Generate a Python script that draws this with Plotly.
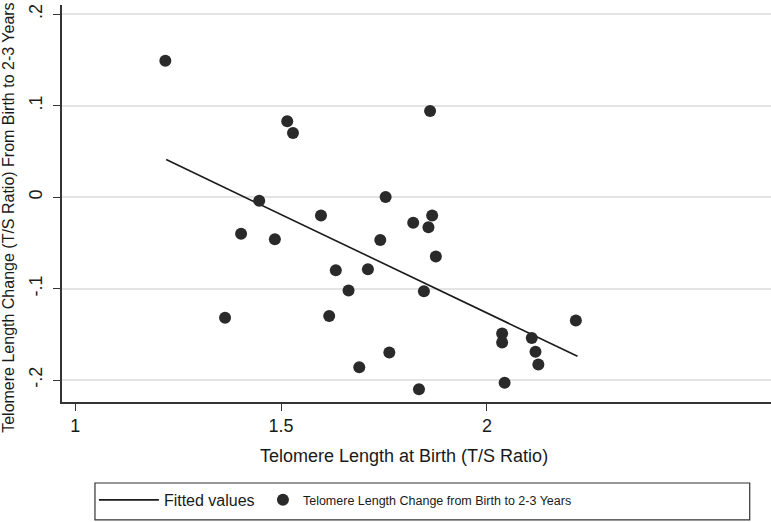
import plotly.graph_objects as go

# Telomere length at birth (T/S ratio)
birth_ts = [1.219, 1.515, 1.529, 1.862, 1.447, 1.754, 1.597, 1.821, 1.867, 1.858,
            1.403, 1.485, 1.741, 1.876, 1.633, 1.711, 1.664, 1.847, 1.364, 1.617,
            1.763, 1.690, 1.835, 2.037, 2.037, 2.109, 2.118, 2.125, 2.216, 2.043]
# Telomere length change from birth to 2-3 years
change_ts = [0.149, 0.083, 0.070, 0.094, -0.004, 0.000, -0.020, -0.028, -0.020, -0.033,
             -0.040, -0.046, -0.047, -0.065, -0.080, -0.079, -0.102, -0.103, -0.132, -0.130,
             -0.170, -0.186, -0.210, -0.149, -0.159, -0.154, -0.169, -0.183, -0.135, -0.203]
# Fitted values (end points of the fitted line)
fit_x = [1.221, 2.220]
fit_y = [0.041, -0.174]

x_ticks = [1, 1.5, 2]
x_tick_labels = ["1", "1.5", "2"]
y_ticks = [0.2, 0.1, 0, -0.1, -0.2]
y_tick_labels = [".2", ".1", "0", "-.1", "-.2"]

FONT = "Liberation Sans, Arial, Helvetica, sans-serif"

fig = go.Figure()
fig.add_trace(go.Scatter(
    x=fit_x, y=fit_y, mode="lines",
    line=dict(color="#1a1a1a", width=1.6),
    name="Fitted values", legend="legend",
))
fig.add_trace(go.Scatter(
    x=birth_ts, y=change_ts, mode="markers",
    marker=dict(color="#2a2a2a", size=12, line=dict(width=0)),
    name="Telomere Length Change from Birth to 2-3 Years", legend="legend2",
))

fig.update_layout(
    width=771, height=522,
    margin=dict(l=62, r=0, t=5, b=120, autoexpand=False),
    paper_bgcolor="white", plot_bgcolor="white",
    font=dict(family=FONT, color="#1a1a1a", size=16),
    showlegend=True,
    legend=dict(
        orientation="h", x=0.045, xanchor="left", y=-0.2469, yanchor="middle",
        bgcolor="rgba(0,0,0,0)", font=dict(size=16), itemwidth=60,
        itemclick=False,
    ),
    legend2=dict(
        orientation="h", x=0.2834, xanchor="left", y=-0.2469, yanchor="middle",
        bgcolor="rgba(0,0,0,0)", font=dict(size=12.5),
        itemclick=False,
    ),
    xaxis=dict(
        range=[0.968, 2.69], tickvals=x_ticks, ticktext=x_tick_labels,
        showgrid=False, zeroline=False, automargin=False,
        showline=True, linecolor="#333333", linewidth=1.5,
        ticks="outside", ticklen=7, tickcolor="#333333", tickwidth=1.2,
        tickfont=dict(size=18), ticklabelstandoff=0,
    ),
    yaxis=dict(
        range=[-0.224, 0.21], tickvals=y_ticks, ticktext=y_tick_labels,
        showgrid=True, gridcolor="#e4e4e4", gridwidth=1.5, zeroline=False, automargin=False,
        showline=True, linecolor="#333333", linewidth=1.5,
        ticks="outside", ticklen=7, tickcolor="#333333", tickwidth=1.2,
        tickangle=-90, tickfont=dict(size=18), ticklabelstandoff=4,
    ),
    annotations=[
        dict(
            text="Telomere Length Change (T/S Ratio) From Birth to 2-3 Years",
            xref="paper", yref="paper", x=-0.075, y=0.4635,
            xanchor="center", yanchor="middle", textangle=-90, showarrow=False,
            font=dict(size=16),
        ),
        dict(
            text="Telomere Length at Birth (T/S Ratio)",
            xref="paper", yref="paper", x=0.482, y=-0.136,
            xanchor="center", yanchor="middle", showarrow=False,
            font=dict(size=18),
        ),
    ],
    shapes=[dict(
        type="rect", xref="paper", yref="paper",
        x0=0.0465, x1=0.970, y0=-0.297, y1=-0.204,
        line=dict(color="#333333", width=1.2), fillcolor="rgba(0,0,0,0)",
    )],
)

fig.write_html(
    "out.html",
    config={"displayModeBar": False},
    post_script="document.body.style.margin='0';document.body.style.padding='0';",
)
